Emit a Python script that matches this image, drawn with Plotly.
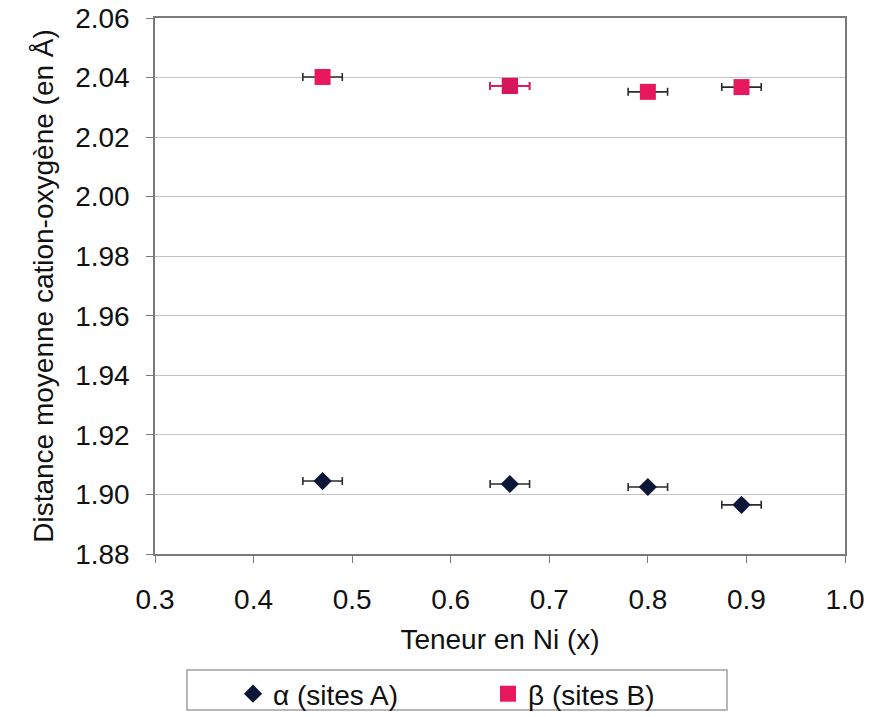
import plotly.graph_objects as go

ni_content = [0.47, 0.66, 0.80, 0.895]
alpha_dist = [1.9045, 1.9035, 1.9025, 1.8965]
beta_dist = [2.0402, 2.0372, 2.0352, 2.0368]
x_err = [0.02, 0.02, 0.02, 0.02]
y_ticks = [1.88, 1.90, 1.92, 1.94, 1.96, 1.98, 2.00, 2.02, 2.04, 2.06]
x_ticks = [0.3, 0.4, 0.5, 0.6, 0.7, 0.8, 0.9, 1.0]

NAVY = "#0b1638"
PINK = "#e8185e"
ERR = "#2b2b2b"
FONT = "Liberation Sans, Arial, sans-serif"
FS = 28

OFF = 0  # page body margin removed via post_script
W, H = 869, 717
# plot area in window pixels: x 155..845, y 18..554
L, R, T, B = 155, 869 - 845, 18, 717 - 554
PW, PH = W - L - R, H - T - B


def px_x(p):
    return (p - OFF - L) / PW


def px_y(p):
    return (H - B - (p - OFF)) / PH


fig = go.Figure()
fig.add_trace(go.Scatter(
    x=ni_content, y=alpha_dist, mode="markers", name="α (sites A)",
    marker=dict(symbol="diamond", size=14, color=NAVY),
    error_x=dict(type="data", array=x_err, color=ERR, thickness=1.6, width=4),
))
fig.add_trace(go.Scatter(
    x=ni_content, y=beta_dist, mode="markers", name="β (sites B)",
    marker=dict(symbol="square", size=16, color=PINK),
    error_x=dict(type="data", array=x_err, color=ERR, thickness=1.6, width=4),
))
# second beta point has pink error bars in the original
fig.add_trace(go.Scatter(
    x=ni_content[1:2], y=beta_dist[1:2], mode="markers", showlegend=False,
    marker=dict(symbol="square", size=16, color="#d8145a"),
    error_x=dict(type="data", array=x_err[1:2], color=PINK, thickness=1.6, width=4),
))

# legend frame
fig.add_shape(type="rect", xref="paper", yref="paper",
              x0=px_x(187), x1=px_x(727), y0=px_y(710), y1=px_y(670),
              line=dict(color="#a0a0a0", width=1.5), fillcolor="rgba(0,0,0,0)")

fig.update_layout(
    width=W, height=H,
    paper_bgcolor="white", plot_bgcolor="white",
    margin=dict(l=L, r=R, t=T, b=B, autoexpand=False),
    font=dict(family=FONT, size=FS, color="#111111"),
    showlegend=True,
    legend=dict(
        orientation="h", x=px_x(233), xanchor="left", y=px_y(694), yanchor="middle",
        borderwidth=0, entrywidth=210, bgcolor="rgba(0,0,0,0)",
        font=dict(family=FONT, size=FS, color="#111111"),
        itemsizing="trace",
    ),
    xaxis=dict(
        range=[0.3, 1.0], tickvals=x_ticks, ticktext=[f"{v:.1f}" for v in x_ticks],
        showgrid=False, zeroline=False, showline=True, linecolor="#7a7a7a", linewidth=1.5,
        mirror=True, automargin=False, ticklabeloverflow="allow",
        ticks="outside", ticklen=7, tickcolor="#7a7a7a", ticklabelstandoff=13,
        title=dict(text="Teneur en Ni (x)", font=dict(size=FS), standoff=15),
        tickfont=dict(size=FS),
    ),
    yaxis=dict(
        range=[1.88, 2.06], tickvals=y_ticks, ticktext=[f"{v:.2f}" for v in y_ticks],
        showgrid=True, gridcolor="#c4c4c4", gridwidth=1.2, zeroline=False,
        showline=True, linecolor="#7a7a7a", linewidth=1.5, mirror=True, automargin=False,
        ticklabeloverflow="allow",
        ticks="outside", ticklen=7, tickcolor="#7a7a7a", ticklabelstandoff=11,
        title=dict(text="Distance moyenne cation-oxygène (en Å)", font=dict(size=FS), standoff=13),
        tickfont=dict(size=FS),
    ),
)

fig.write_html(
    "out.html",
    config={"displayModeBar": False},
    post_script="document.body.style.margin='0';document.body.style.overflow='hidden';",
)
